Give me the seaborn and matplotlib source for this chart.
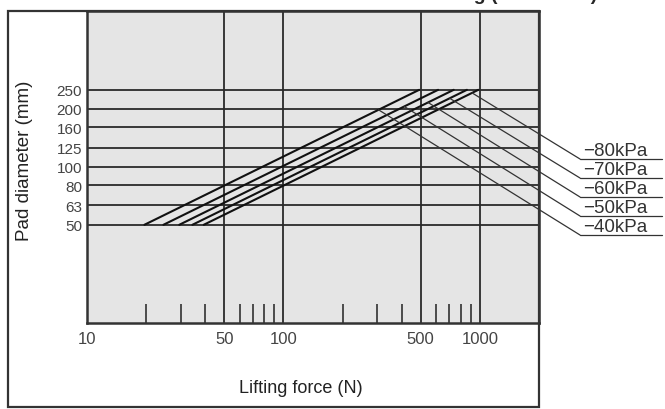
import numpy as np
import pandas as pd
import seaborn as sns
import matplotlib.pyplot as plt
from matplotlib.patches import Rectangle
from matplotlib.lines import Line2D
from matplotlib.ticker import NullLocator, NullFormatter

# values
diameters = [50, 250]
pressures = ["-40kPa", "-50kPa", "-60kPa", "-70kPa", "-80kPa"]
force_40 = [19.6, 491]
force_50 = [24.5, 613]
force_60 = [29.5, 736]
force_70 = [34.4, 859]
force_80 = [39.3, 982]
leader_diam = [197, 205, 215, 226, 241]   # where each leader leaves its line
label_text = ["\u221240kPa", "\u221250kPa", "\u221260kPa", "\u221270kPa", "\u221280kPa"]

y_ticks = [50, 63, 80, 100, 125, 160, 200, 250]
x_major = [10, 50, 100, 500, 1000]
x_minor = [20, 30, 40, 60, 70, 80, 90, 200, 300, 400, 600, 700, 800, 900]

forces = [force_40, force_50, force_60, force_70, force_80]
df = pd.DataFrame({
    "force": np.concatenate(forces),
    "diameter": diameters * len(pressures),
    "pressure": np.repeat(pressures, len(diameters)),
})

sns.set_style("white")
plt.rcParams["font.family"] = ["Liberation Sans", "DejaVu Sans"]

W, H = 665, 410
fig = plt.figure(figsize=(W / 100, H / 100), dpi=100)
ax = fig.add_axes([87 / W, 1 - 324 / H, (539 - 87) / W, (324 - 12) / H])
ax.set_facecolor("#e5e5e5")

sns.lineplot(data=df, x="force", y="diameter", hue="pressure",
             palette=["#111111"] * len(pressures), legend=False,
             ax=ax, lw=1.5, zorder=3)

ax.set_xscale("log")
ax.set_yscale("log")
ax.set_xlim(10, 2000)
ax.set_ylim(15.5, 640)

ax.set_yticks(y_ticks)
ax.set_yticklabels([str(v) for v in y_ticks], fontsize=11, color="#444444")
ax.yaxis.set_minor_locator(NullLocator())
ax.set_xticks(x_major)
ax.set_xticklabels([str(v) for v in x_major], fontsize=12, color="#444444")
ax.set_xticks(x_minor, minor=True)
ax.xaxis.set_minor_formatter(NullFormatter())
ax.tick_params(axis="x", which="minor", bottom=True, direction="in",
               length=14, width=1.1, color="#222222")
ax.tick_params(axis="x", which="major", bottom=True, length=0, pad=6)
ax.tick_params(axis="y", which="major", left=True, length=0, pad=3.5)
ax.grid(True, which="major", color="#2a2a2a", lw=1.3)
ax.set_xlabel("")
ax.set_ylabel("")
for s in ax.spines.values():
    s.set_color("#333333")
    s.set_linewidth(1.8)

# leader lines and pressure labels
label_y = [236, 217, 198, 179, 160]
for f, d, txt, yu in zip(forces, leader_diam, label_text, label_y):
    ld = np.log10(diameters)
    lf = np.log10(f)
    f_at = 10 ** np.interp(np.log10(d), ld, lf)
    ax.annotate("", xy=(f_at, d), xycoords="data",
                xytext=(580 / W, 1 - yu / H), textcoords="figure fraction",
                arrowprops=dict(arrowstyle="-", color="#333333", lw=0.9,
                                shrinkA=0, shrinkB=0),
                annotation_clip=False)
    fig.add_artist(Line2D([580 / W, 662 / W], [1 - yu / H] * 2,
                          transform=fig.transFigure, color="#333333", lw=0.9))
    fig.text(583 / W, 1 - (yu - 8) / H, txt, ha="left", va="center",
             fontsize=13.5, color="#333333")

fig.text(25 / W, 1 - 161 / H, "Pad diameter (mm)", rotation=90,
         ha="center", va="center", fontsize=13.5, color="#222222")
fig.text(301 / W, 1 - 389 / H, "Lifting force (N)",
         ha="center", va="center", fontsize=13, color="#222222")
fig.text(597 / W, 1.0, "Lifting (horizontal)",
         ha="right", va="baseline", fontsize=14, weight="bold")

fig.add_artist(Rectangle((8 / W, 2 / H), (539 - 8) / W, (408 - 12) / H,
                         fill=False, lw=1.6, edgecolor="#333333",
                         transform=fig.transFigure))

fig.savefig("out.png", dpi=100)
